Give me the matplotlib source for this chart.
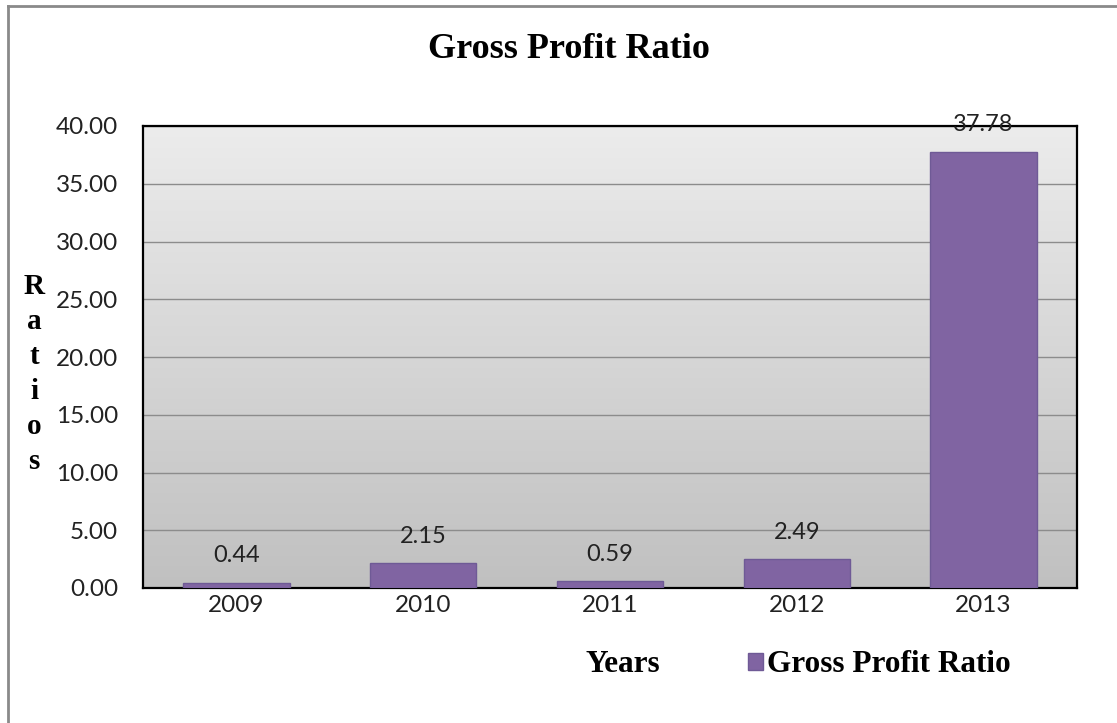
import numpy as np
import matplotlib.pyplot as plt
from matplotlib.patches import Patch
from matplotlib.lines import Line2D

years = ['2009', '2010', '2011', '2012', '2013']
gross_profit_ratio = [0.44, 2.15, 0.59, 2.49, 37.78]
yticks = [0, 5, 10, 15, 20, 25, 30, 35, 40]

W, H = 1117, 723
fig = plt.figure(figsize=(W / 100, H / 100), dpi=100)

# axes box in pixels: left 143, right 1077, top 126, bottom 588
ax = fig.add_axes([143 / W, 1 - 588 / H, (1077 - 143) / W, (588 - 126) / H])

# gradient background
grad = np.linspace(0, 1, 256).reshape(-1, 1)
ax.imshow(grad, extent=[0, 1, 0, 1], transform=ax.transAxes, aspect='auto',
          cmap=plt.matplotlib.colors.LinearSegmentedColormap.from_list('g', ['#c0c0c0', '#ececec']),
          origin='lower', zorder=0)

x = np.arange(len(years))
ax.bar(x, gross_profit_ratio, width=0.57, color='#8064a2', edgecolor='#6f5a96',
       linewidth=1, zorder=3)

for xi, v in zip(x, gross_profit_ratio):
    ax.annotate(f'{v:.2f}', (xi, v), xytext=(0, 12), textcoords='offset points',
                ha='center', va='bottom', fontsize=17, family='Lato', color='#222222',
                zorder=5, annotation_clip=False)

ax.set_xlim(-0.5, len(years) - 0.5)
ax.set_ylim(0, 40)
ax.set_yticks(yticks)
ax.set_yticklabels([f'{t:.2f}' for t in yticks], family='Lato', fontsize=17.5, color='#222222')
ax.set_xticks(x)
ax.set_xticklabels(years, family='Lato', fontsize=17.5, color='#222222')
ax.tick_params(axis='y', length=0, pad=18)
ax.tick_params(axis='x', length=0, pad=5)
ax.yaxis.grid(True, color='#8c8c8c', linewidth=1, zorder=1)
ax.set_axisbelow(True)
for s in ax.spines.values():
    s.set_color('black')
    s.set_linewidth(1.6)

fig.text(569 / W, 1 - 50 / H, 'Gross Profit Ratio', ha='center', va='center',
         family='Liberation Serif', fontweight='bold', fontsize=26)

fig.text(34 / W, 1 - 374 / H, 'R\na\nt\ni\no\ns', ha='center', va='center',
         family='Liberation Serif', fontweight='bold', fontsize=21, linespacing=1.38)

fig.text(623 / W, 1 - 665 / H, 'Years', ha='center', va='center',
         family='Liberation Serif', fontweight='bold', fontsize=22.5)

handle = Patch(facecolor='#8064a2', edgecolor='#6f5a96')
fig.legend([handle], ['Gross Profit Ratio'], loc='center left',
           bbox_to_anchor=(748 / W, 1 - 665 / H), frameon=False,
           prop={'family': 'Liberation Serif', 'weight': 'bold', 'size': 22.5},
           handlelength=0.47, handleheight=0.47, handletextpad=0.15, borderpad=0,
           borderaxespad=0)

# outer border (top and left visible)
fig.add_artist(Line2D([8 / W, 1], [1 - 6 / H, 1 - 6 / H], color='#8a8a8a', linewidth=2))
fig.add_artist(Line2D([8 / W, 8 / W], [0, 1 - 6 / H], color='#8a8a8a', linewidth=2))

fig.savefig('out.png', dpi=100)
